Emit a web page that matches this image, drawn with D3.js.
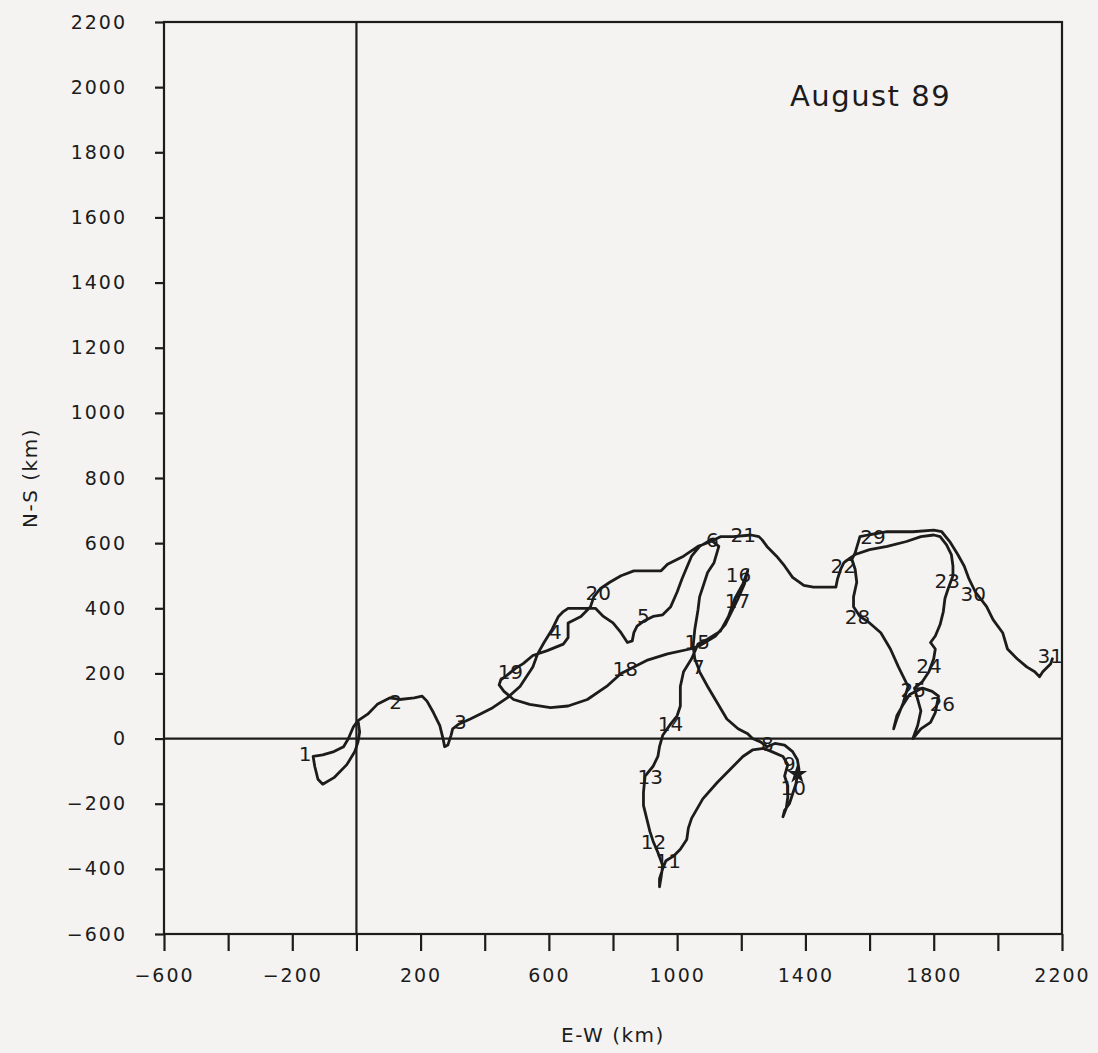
<!DOCTYPE html>
<html>
<head>
<meta charset="utf-8">
<script src="https://cdn.jsdelivr.net/npm/d3@7"></script>
<style>
  body { margin: 0; background: #f5f3f1; }
  svg { display: block; }
  text { font-family: "DejaVu Sans", sans-serif; fill: #1c1c1c; }
</style>
</head>
<body>
<div id="chart"></div>
<script>
// Track of the August 89 drift, [E-W km, N-S km]
const trackPoints = [
    [5, 55], [10, 20], [5, -10], [-5, -40], [-30, -80], [-70, -120], [-105, -140], [-120, -125],
    [-130, -85], [-135, -55], [-105, -50], [-70, -40], [-40, -25], [-25, 0], [-10, 35], [5, 55],
    [35, 75], [65, 105], [105, 125], [135, 120], [180, 125], [205, 130], [220, 115], [240, 80],
    [260, 40], [270, 0], [275, -25], [285, -20], [295, 10], [300, 30], [320, 45], [355, 60],
    [385, 75], [425, 95], [470, 125], [510, 160], [550, 220], [565, 260], [585, 295], [610, 335],
    [630, 375], [645, 390], [660, 400], [745, 400], [770, 375], [800, 355], [825, 325], [845, 295],
    [860, 300], [865, 325], [875, 345], [895, 360], [925, 375], [955, 380], [980, 405], [1000, 450],
    [1015, 490], [1030, 525], [1045, 560], [1070, 590], [1105, 610],
    // 6 -> 7
    [1130, 590], [1115, 540], [1095, 510], [1070, 435], [1065, 395], [1055, 335], [1050, 285],
    [1055, 245], [1065, 220],
    // 7 -> 8
    [1070, 205], [1095, 160], [1125, 110], [1155, 60], [1190, 30], [1220, 15], [1235, 0],
    [1260, -10], [1280, -25],
    // 8 -> 10 and back
    [1305, -15], [1335, -20], [1360, -40], [1375, -65], [1380, -95], [1375, -115], [1370, -140],
    [1360, -170], [1350, -200], [1335, -220], [1330, -240], [1340, -215], [1345, -180],
    [1345, -145], [1335, -115], [1345, -80], [1330, -55], [1295, -40], [1270, -30],
    // -> 11, 12
    [1235, -35], [1205, -55], [1165, -95], [1125, -135], [1080, -185], [1045, -245], [1035, -275],
    [1030, -310], [1010, -340], [990, -360], [965, -375], [955, -400], [945, -430], [945, -455],
    [950, -425], [955, -390], [940, -350], [925, -315],
    // -> 13, 14, 15
    [915, -285], [905, -245], [895, -205], [895, -165], [900, -115], [925, -85], [940, -55],
    [945, -25], [955, 10], [980, 45], [1000, 70], [1010, 100], [1010, 160], [1020, 205],
    [1045, 245], [1065, 290],
    // -> 16, 17, 18, 19
    [1095, 305], [1135, 330], [1160, 375], [1180, 430], [1205, 475], [1220, 515], [1210, 475],
    [1190, 430], [1170, 390], [1150, 350], [1120, 315], [1070, 285], [1040, 275], [970, 260],
    [905, 240], [865, 220], [825, 200], [780, 160], [720, 120], [660, 100], [605, 95], [540, 105],
    [490, 120], [460, 145], [445, 165], [450, 180], [470, 195], [495, 215], [520, 230],
    // -> 20, 21
    [550, 255], [595, 270], [645, 290], [660, 310], [660, 355], [700, 375], [730, 405], [740, 435],
    [760, 460], [790, 480], [825, 500], [865, 515], [950, 515], [970, 535], [1020, 560],
    [1065, 590], [1105, 605],
    // -> 22
    [1135, 620], [1175, 620], [1230, 625], [1255, 620], [1265, 610], [1280, 590], [1310, 560],
    [1335, 530], [1360, 495], [1395, 470], [1425, 465], [1495, 465], [1500, 490], [1510, 520],
    [1520, 540],
    // -> 23
    [1540, 555], [1555, 565], [1600, 580], [1655, 590], [1715, 605], [1760, 620], [1800, 625],
    [1820, 620], [1840, 595], [1855, 565], [1860, 530], [1860, 500], [1845, 460],
    // -> 24, 25
    [1835, 430], [1830, 390], [1820, 350], [1805, 315], [1790, 295], [1805, 275], [1800, 245],
    [1785, 205], [1765, 175], [1740, 155],
    // -> 26, 27, 28
    [1750, 120], [1760, 85], [1750, 40], [1735, 0], [1760, 30], [1790, 50], [1805, 80],
    [1810, 105], [1815, 130], [1795, 145], [1765, 155], [1725, 135], [1705, 105], [1685, 70],
    [1675, 30], [1685, 60], [1705, 110], [1720, 160], [1705, 190], [1690, 220], [1665, 275],
    [1635, 325], [1600, 355], [1570, 375], [1550, 405], [1550, 435], [1560, 480], [1555, 520],
    [1545, 550],
    // -> 29, 30, 31
    [1555, 570], [1570, 620], [1595, 625], [1655, 635], [1735, 635], [1800, 640], [1825, 635],
    [1850, 605], [1875, 565], [1895, 530], [1910, 490], [1930, 450], [1965, 405], [1985, 365],
    [2015, 325], [2030, 275], [2060, 245], [2090, 220], [2115, 205], [2130, 190], [2140, 205],
    [2165, 230], [2170, 245]
];

// Day numbers written along the track
const dayLabels = ["1", "2", "3", "4", "5", "6", "7", "8", "9", "10", "11", "12", "13", "14", "15", "16",
    "17", "18", "19", "20", "21", "22", "23", "24", "25", "26", "28", "29", "30", "31"];
const dayX = [-160, 122, 324, 620, 895, 1110, 1066, 1281, 1350, 1362, 972, 926, 916, 979, 1063, 1191,
    1188, 838, 480, 754, 1206, 1518, 1842, 1785, 1736, 1827, 1562, 1611, 1923, 2163];
const dayY = [-48, 112, 51, 327, 376, 611, 219, -17, -76, -150, -376, -317, -118, 44, 296, 504,
    422, 213, 204, 449, 627, 529, 483, 222, 150, 106, 373, 621, 443, 253];

const starPoint = [1375, -109];

const xTickValues = [-600, -400, -200, 0, 200, 400, 600, 800, 1000, 1200, 1400, 1600, 1800, 2000, 2200];
const xTickLabels = [-600, -200, 200, 600, 1000, 1400, 1800, 2200];
const yTickValues = [-600, -400, -200, 0, 200, 400, 600, 800, 1000, 1200, 1400, 1600, 1800, 2000, 2200];

const width = 1098, height = 1053;
const plot = {left: 164, right: 1062, top: 22, bottom: 934};

const svg = d3.select("#chart")
    .append("svg")
    .attr("width", width)
    .attr("height", height);

svg.append("rect")
    .attr("width", width)
    .attr("height", height)
    .attr("fill", "#f5f3f1");

const x = d3.scaleLinear().domain([-600, 2200]).range([plot.left, plot.right]);
const y = d3.scaleLinear().domain([-600, 2200]).range([plot.bottom, plot.top]);

const ink = "#1c1c1c";

// Frame
svg.append("rect")
    .attr("x", plot.left)
    .attr("y", plot.top)
    .attr("width", plot.right - plot.left)
    .attr("height", plot.bottom - plot.top)
    .attr("fill", "none")
    .attr("stroke", ink)
    .attr("stroke-width", 2.2);

// Zero lines
svg.append("line")
    .attr("x1", x(0)).attr("x2", x(0))
    .attr("y1", plot.top).attr("y2", plot.bottom)
    .attr("stroke", ink).attr("stroke-width", 2.2);

svg.append("line")
    .attr("x1", plot.left).attr("x2", plot.right)
    .attr("y1", y(0)).attr("y2", y(0))
    .attr("stroke", ink).attr("stroke-width", 2.2);

// X axis
const xAxis = svg.append("g")
    .attr("transform", "translate(0," + plot.bottom + ")")
    .call(d3.axisBottom(x)
        .tickValues(xTickValues)
        .tickSize(17)
        .tickSizeOuter(0)
        .tickFormat(d => xTickLabels.includes(d) ? d3.format("")(d) : ""));
xAxis.select(".domain").remove();
xAxis.selectAll("line").attr("stroke", ink).attr("stroke-width", 2.2);
xAxis.selectAll("text")
    .attr("y", 41)
    .attr("dy", "0.35em")
    .style("font-size", "19px")
    .style("letter-spacing", "2px")
    .style("font-family", "DejaVu Sans, sans-serif")
    .attr("fill", ink);

// Y axis
const yAxis = svg.append("g")
    .attr("transform", "translate(" + plot.left + ",0)")
    .call(d3.axisLeft(y)
        .tickValues(yTickValues)
        .tickSize(9)
        .tickPadding(28)
        .tickSizeOuter(0)
        .tickFormat(d3.format("")));
yAxis.select(".domain").remove();
yAxis.selectAll("line").attr("stroke", ink).attr("stroke-width", 2.2);
yAxis.selectAll("text")
    .style("font-size", "19px")
    .style("letter-spacing", "2px")
    .style("font-family", "DejaVu Sans, sans-serif")
    .attr("fill", ink);

// Track
const line = d3.line()
    .x(d => x(d[0]))
    .y(d => y(d[1]));

svg.append("path")
    .datum(trackPoints)
    .attr("d", line)
    .attr("fill", "none")
    .attr("stroke", ink)
    .attr("stroke-width", 2.8)
    .attr("stroke-linejoin", "round")
    .attr("stroke-linecap", "round");

// Star marker
svg.append("path")
    .attr("d", d3.symbol().type(d3.symbolStar).size(120)())
    .attr("transform", "translate(" + x(starPoint[0]) + "," + y(starPoint[1]) + ")")
    .attr("fill", ink);

// Day labels
svg.selectAll(".day")
    .data(dayLabels)
    .enter().append("text")
    .attr("class", "day")
    .attr("x", (d, i) => x(dayX[i]))
    .attr("y", (d, i) => y(dayY[i]))
    .attr("dy", "0.36em")
    .attr("text-anchor", "middle")
    .style("font-size", "20px")
    .text(d => d);

// Title
svg.append("text")
    .attr("x", 790)
    .attr("y", 106)
    .style("font-size", "29px")
    .style("letter-spacing", "1.5px")
    .text("August 89");

// Axis labels
svg.append("text")
    .attr("x", (plot.left + plot.right) / 2)
    .attr("y", 1042)
    .attr("text-anchor", "middle")
    .style("font-size", "20px")
    .style("letter-spacing", "1.5px")
    .text("E-W (km)");

svg.append("text")
    .attr("transform", "translate(37," + (plot.top + plot.bottom) / 2 + ") rotate(-90)")
    .attr("text-anchor", "middle")
    .style("font-size", "20px")
    .style("letter-spacing", "1.5px")
    .text("N-S (km)");
</script>
</body>
</html>
